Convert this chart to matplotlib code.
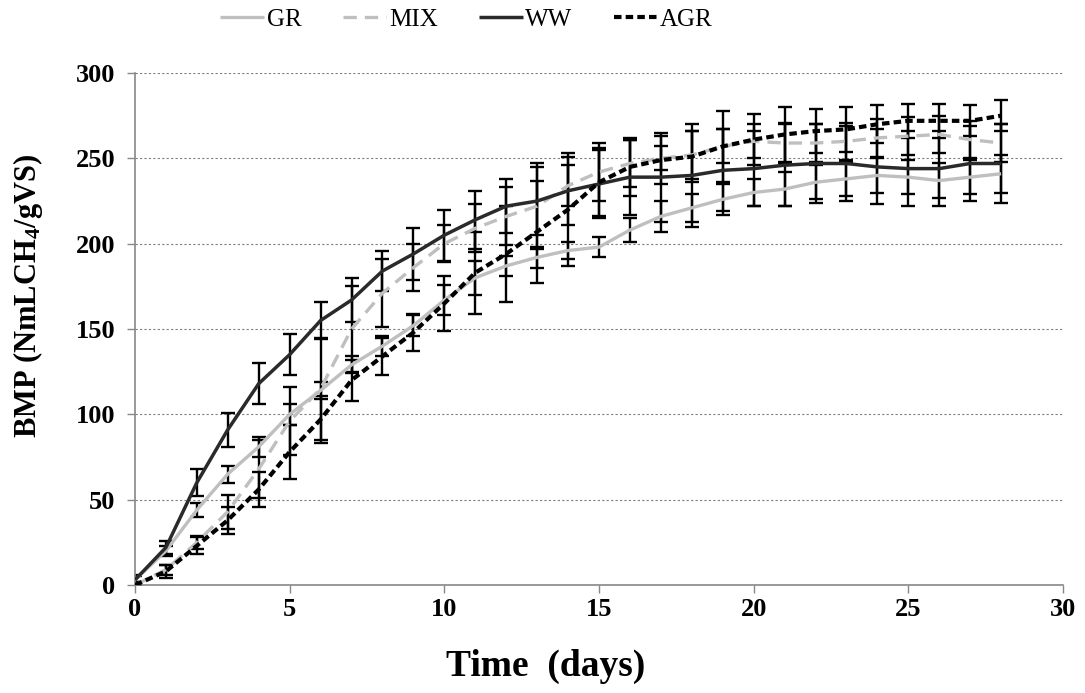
import matplotlib
matplotlib.use("Agg")
import matplotlib.pyplot as plt

plt.rcParams['font.family'] = ['Liberation Serif', 'DejaVu Serif']
plt.rcParams['mathtext.default'] = 'regular'

days = list(range(29))

gr = [3, 20, 44, 65, 81, 100, 114, 129, 140, 152, 167, 180, 187, 192, 196, 198,
      208, 216, 221, 226, 230, 232, 236, 238, 240, 239, 237, 239, 241]
mix = [0, 9, 25, 43, 68, 96, 115, 150, 171, 186, 200, 209, 216, 222, 234, 242,
       247, 250, 252, 257, 260, 259, 259, 260, 262, 263, 264, 261, 259]
ww = [3, 22, 60, 91, 118, 135, 155, 167, 184, 194, 205, 214, 222, 225, 231, 235,
      239, 239, 240, 243, 244, 246, 247, 247, 245, 244, 244, 247, 247]
agr = [0, 8, 23, 38, 56, 78, 97, 120, 134, 148, 165, 183, 194, 207, 220, 236,
       245, 249, 251, 257, 261, 264, 266, 267, 270, 272, 272, 272, 275]

gr_err = [2, 3, 4, 5, 6, 6, 5, 5, 6, 6, 9, 10, 6, 6, 5, 6, 7, 9, 8, 9, 8, 10,
          10, 10, 10, 10, 10, 10, 11]
mix_err = [2, 3, 4, 10, 17, 20, 30, 25, 20, 14, 11, 14, 17, 25, 12, 17, 14, 7,
           14, 10, 10, 12, 11, 11, 11, 11, 11, 11, 11]
ww_err = [3, 4, 8, 10, 12, 12, 11, 13, 12, 15, 15, 17, 16, 20, 20, 20, 22, 26,
          30, 24, 22, 24, 23, 22, 22, 22, 22, 22, 23]
agr_err = [2, 4, 5, 8, 10, 16, 14, 12, 11, 11, 16, 24, 28, 30, 33, 20, 17, 14,
           15, 21, 15, 16, 13, 13, 11, 10, 10, 9, 9]

fig = plt.figure(figsize=(10.85, 6.93), dpi=100)
ax = fig.add_axes([0.1244, 0.1558, 0.8553, 0.7388])

series = [
    ("GR", gr, gr_err, '#bfbfbf', (0, ()), 2.4),
    ("MIX", mix, mix_err, '#bfbfbf', (0, (4, 2.4)), 2.4),
    ("WW", ww, ww_err, '#2a2a2a', (0, ()), 2.5),
    ("AGR", agr, agr_err, '#000000', (0, (1.8, 1.0)), 3.0),
]

for name, vals, err, col, ls, lw in series:
    ax.errorbar(days, vals, yerr=err, fmt='none', ecolor='black',
                elinewidth=1.7, capsize=5, capthick=1.7, zorder=2)
for name, vals, err, col, ls, lw in series:
    ax.plot(days, vals, color=col, linestyle=ls, linewidth=lw, label=name, zorder=3)

ax.set_xlim(0, 30)
ax.set_ylim(0, 300)
ax.set_xticks(range(0, 31, 5))
ax.set_yticks(range(0, 301, 50))
ax.yaxis.grid(True, color='#7f7f7f', linestyle=(0, (2, 2)), linewidth=0.8)
ax.set_axisbelow(True)

for s in ['top', 'right']:
    ax.spines[s].set_visible(False)
for s in ['left', 'bottom']:
    ax.spines[s].set_color('#888888')
    ax.spines[s].set_linewidth(1.2)
ax.tick_params(axis='both', direction='out', length=6, width=1.0, color='#888888',
               labelsize=19)
ax.tick_params(axis='x', pad=3)
ax.tick_params(axis='y', pad=8)
for lab in ax.get_xticklabels() + ax.get_yticklabels():
    lab.set_fontweight('bold')

ax.set_xlabel('Time  (days)', fontsize=27, fontweight='bold')
ax.xaxis.set_label_coords(0.442, -0.125)
ax.set_ylabel('BMP (NmLCH$_4$/gVS)', fontsize=22, fontweight='bold')
ax.yaxis.set_label_coords(-0.097, 0.565)

fig.legend(loc='upper center', bbox_to_anchor=(0.43, 1.02), ncol=4, frameon=False,
           fontsize=18, handlelength=1.75, handletextpad=0.1, columnspacing=1.65)

fig.savefig('out.png', dpi=100)
